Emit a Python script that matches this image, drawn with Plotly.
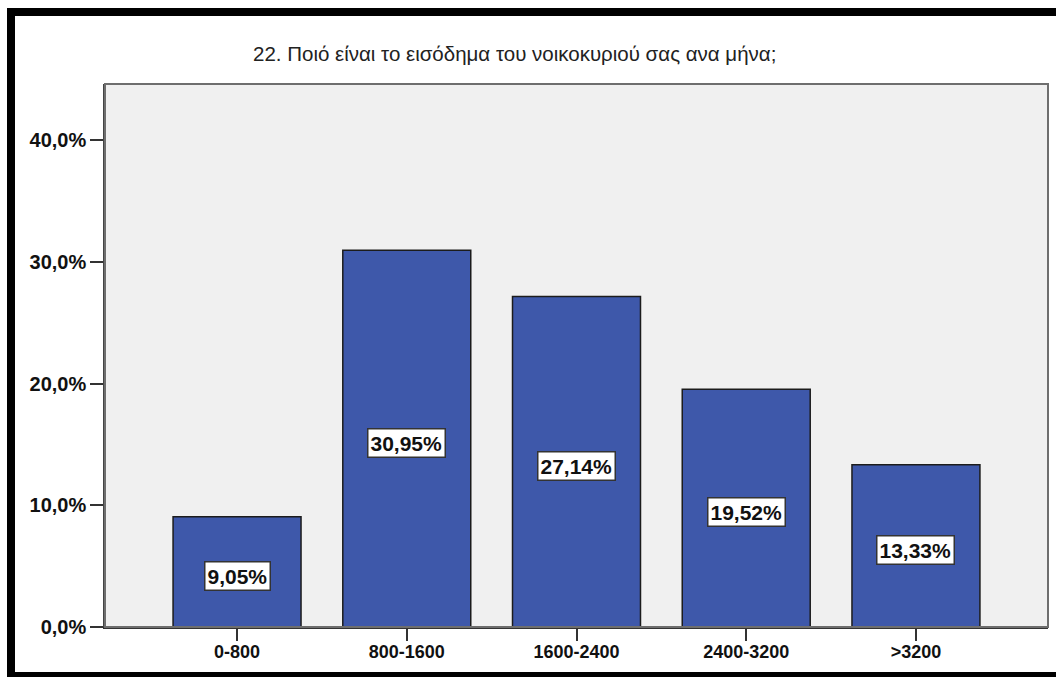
import plotly.graph_objects as go

# Monthly household income brackets and their share of respondents (%)
categories = ["0-800", "800-1600", "1600-2400", "2400-3200", ">3200"]
shares = [9.05, 30.95, 27.14, 19.52, 13.33]
y_ticks = [0, 10, 20, 30, 40]
y_tick_text = [f"{t:.1f}".replace(".", ",") + "%" for t in y_ticks]

title_text = "22. Ποιό είναι το εισόδημα του νοικοκυριού σας ανα μήνα;"
FONT = "Liberation Sans, Arial, sans-serif"

W, H = 1056, 677
L, R, T, B = 105, 8, 84, 50
pw, ph = W - L - R, H - T - B


def px_x(p):
    return (p - L) / pw


def px_y(p):
    return (H - B - p) / ph


fig = go.Figure()
fig.add_trace(go.Bar(
    x=categories,
    y=shares,
    width=0.754,
    marker=dict(color="#3e58aa", line=dict(color="#1c1c1c", width=1.5)),
    hoverinfo="skip",
))

# value labels in white boxes at the middle of each bar
annotations = []
for c, v in zip(categories, shares):
    annotations.append(dict(
        x=c, y=v / 2, xref="x", yref="y",
        text="<b>" + f"{v:.2f}".replace(".", ",") + "%</b>",
        showarrow=False, yshift=-4,
        font=dict(family=FONT, size=21, color="#111111"),
        bgcolor="#ffffff", bordercolor="#333333", borderwidth=1.5, borderpad=2,
    ))

annotations.append(dict(
    x=px_x(514), y=px_y(53), xref="paper", yref="paper",
    text=title_text, showarrow=False,
    font=dict(family=FONT, size=20.5, color="#222222"),
    xanchor="center", yanchor="middle",
))

shapes = [
    # plot frame
    dict(type="rect", xref="paper", yref="paper", x0=0, y0=0, x1=1, y1=1,
         line=dict(color="#6e6e6e", width=2), layer="above"),
    # black outer border: top, left, bottom
    dict(type="rect", xref="paper", yref="paper",
         x0=px_x(7), x1=px_x(1056), y0=px_y(8), y1=px_y(16),
         fillcolor="#000000", line=dict(width=0)),
    dict(type="rect", xref="paper", yref="paper",
         x0=px_x(7), x1=px_x(15), y0=px_y(8), y1=px_y(677),
         fillcolor="#000000", line=dict(width=0)),
    dict(type="rect", xref="paper", yref="paper",
         x0=px_x(7), x1=px_x(1056), y0=px_y(672), y1=px_y(677),
         fillcolor="#000000", line=dict(width=0)),
]

fig.update_layout(
    width=W, height=H,
    margin=dict(l=L, r=R, t=T, b=B, pad=0),
    paper_bgcolor="#ffffff",
    plot_bgcolor="#f0f0f0",
    showlegend=False,
    annotations=annotations,
    shapes=shapes,
    xaxis=dict(
        range=[-0.778, 4.778],
        tickvals=categories,
        ticktext=[f"<b>{c}</b>" for c in categories],
        showgrid=False, zeroline=False,
        showline=True, linecolor="#333333", linewidth=1.5,
        ticks="outside", ticklen=12, tickwidth=1.5, tickcolor="#333333",
        ticklabelstandoff=-4,
        tickfont=dict(family=FONT, size=18, color="#111111"),
    ),
    yaxis=dict(
        range=[0, 44.6],
        tickvals=y_ticks,
        ticktext=[f"<b>{t}</b>" for t in y_tick_text],
        showgrid=False, zeroline=False,
        showline=True, linecolor="#444444", linewidth=1.5,
        ticks="outside", ticklen=13, tickwidth=1.5, tickcolor="#333333",
        tickfont=dict(family=FONT, size=20, color="#111111"),
    ),
)

fig.write_html("out.html")
